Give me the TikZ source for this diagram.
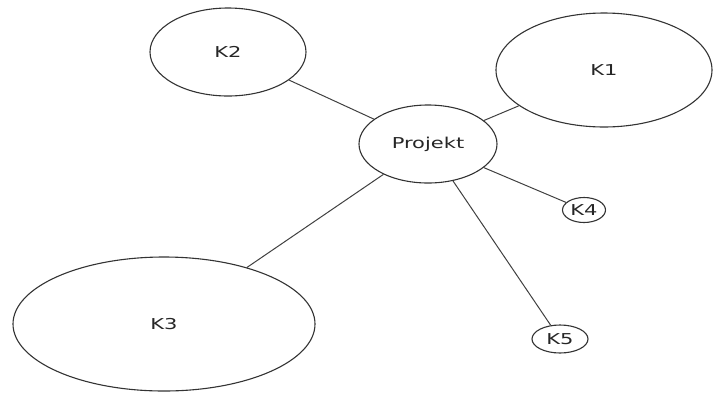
\documentclass[tikz,border=0pt]{standalone}
\usepackage{fontspec}
\newfontfamily\labelfont[FakeStretch=1.4]{DejaVu Sans}
\usetikzlibrary{shapes.geometric}

\begin{document}
\begin{tikzpicture}[x=1pt, y=-1pt]
    \tikzstyle{cluster} = [draw=black!80, line width=1.1pt, ellipse,
	inner sep=0pt, font=\labelfont\fontsize{15}{17}\selectfont, text=black!85]
    \tikzstyle{link} = [draw=black!75, line width=1pt]

	\useasboundingbox (0,0) rectangle (715,392);

	\begin{scope}
		\path[-]
			node[cluster, minimum width=138pt, minimum height=78pt] (P) at (428,144) {Projekt}
			node[cluster, minimum width=216pt, minimum height=114pt] (K1) at (604,70) {K1}
			node[cluster, minimum width=156pt, minimum height=88pt] (K2) at (228,52) {K2}
			node[cluster, minimum width=302pt, minimum height=134pt] (K3) at (164,324) {K3}
			node[cluster, minimum width=43pt, minimum height=25pt] (K4) at (584,210) {K4}
			node[cluster, minimum width=56pt, minimum height=28pt] (K5) at (560,339) {K5}

			(P) edge[link] (K1)
			(P) edge[link] (K2)
			(P) edge[link] (K3)
			(P) edge[link] (K4)
			(P) edge[link] (K5)
		;
	\end{scope}
\end{tikzpicture}
\end{document}
